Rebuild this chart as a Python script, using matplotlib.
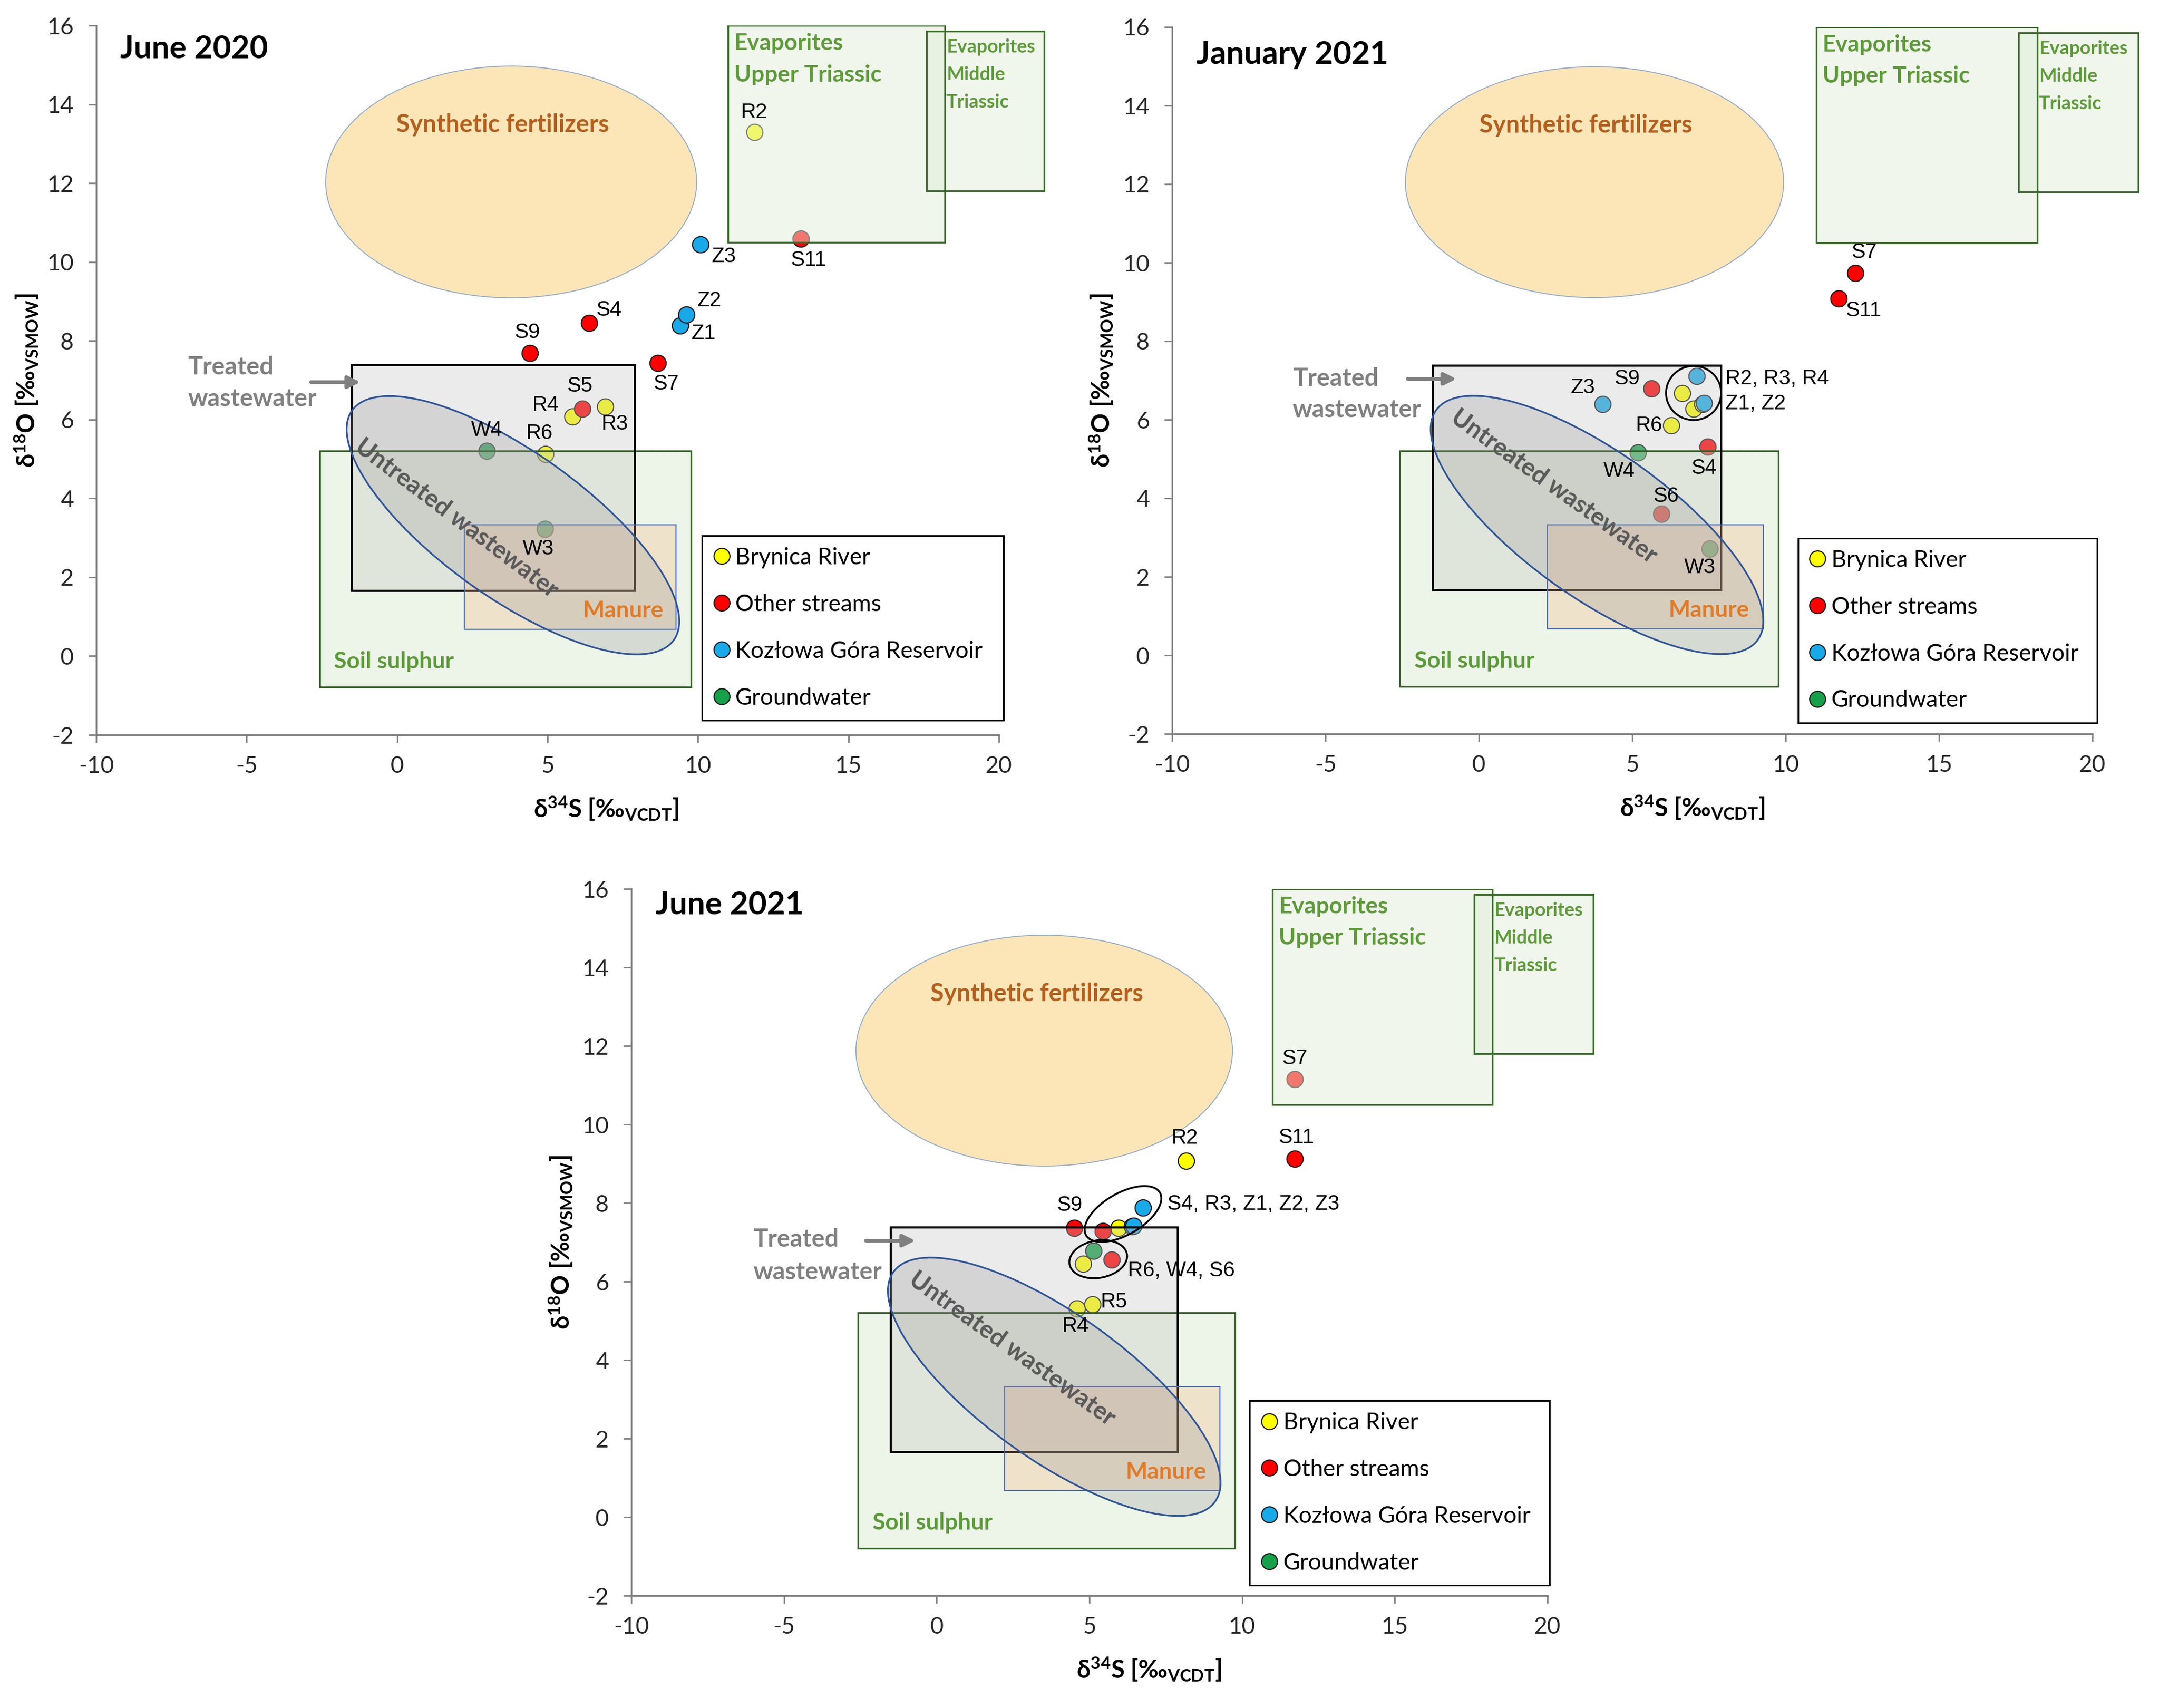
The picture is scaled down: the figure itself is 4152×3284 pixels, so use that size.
import matplotlib
matplotlib.use('Agg')
import matplotlib.pyplot as plt
from matplotlib.patches import Ellipse, Rectangle
from matplotlib.transforms import ScaledTranslation
from matplotlib.lines import Line2D

plt.rcParams['font.family'] = ['Lato', 'DejaVu Sans']
plt.rcParams['mathtext.fontset'] = 'custom'
plt.rcParams['mathtext.rm'] = 'Lato'
plt.rcParams['mathtext.bf'] = 'Lato:bold'
plt.rcParams['mathtext.it'] = 'Lato:italic'
plt.rcParams['axes.unicode_minus'] = False

DPI = 100
FIG_W, FIG_H = 4152, 3284

GROUPS = ['Brynica River', 'Other streams', 'Kozłowa Góra Reservoir', 'Groundwater']
GROUP_COLORS = ['#FFFF00', '#FF0000', '#1AA9E8', '#16A04A']

X_TICKS = [-10, -5, 0, 5, 10, 15, 20]
Y_TICKS = [-2, 0, 2, 4, 6, 8, 10, 12, 14, 16]

# ---------------- June 2020 ----------------
jun20_names = ['R2', 'R3', 'R4', 'R6', 'S4', 'S5', 'S7', 'S9', 'S11', 'Z1', 'Z2', 'Z3', 'W3', 'W4']
jun20_group = [0, 0, 0, 0, 1, 1, 1, 1, 1, 2, 2, 2, 3, 3]
jun20_d34S = [11.87, 6.92, 5.83, 4.93, 6.38, 6.15, 8.66, 4.41, 13.42, 9.40, 9.61, 10.08, 4.91, 2.97]
jun20_d18O = [13.29, 6.33, 6.07, 5.12, 8.45, 6.27, 7.44, 7.68, 10.59, 8.38, 8.66, 10.45, 3.23, 5.20]

# ---------------- January 2021 ----------------
jan21_names = ['R2', 'R3', 'R4', 'R6', 'S4', 'S6', 'S7', 'S9', 'S11', 'Z1', 'Z2', 'Z3', 'W3', 'W4']
jan21_group = [0, 0, 0, 0, 1, 1, 1, 1, 1, 2, 2, 2, 3, 3]
jan21_d34S = [6.63, 7.00, 7.28, 6.27, 7.45, 5.95, 12.27, 5.63, 11.73, 7.34, 7.11, 4.03, 7.53, 5.18]
jan21_d18O = [6.68, 6.28, 6.40, 5.86, 5.31, 3.60, 9.73, 6.80, 9.09, 6.43, 7.11, 6.40, 2.72, 5.16]

# ---------------- June 2021 ----------------
jun21_names = ['R2', 'R3', 'R4', 'R5', 'R6', 'S4', 'S6', 'S7', 'S9', 'S11', 'Z1', 'Z2', 'Z3', 'W4']
jun21_group = [0, 0, 0, 0, 0, 1, 1, 1, 1, 1, 2, 2, 2, 3]
jun21_d34S = [8.17, 5.96, 4.59, 5.10, 4.80, 5.44, 5.74, 11.72, 4.50, 11.72, 6.40, 6.44, 6.75, 5.14]
jun21_d18O = [9.07, 7.36, 5.31, 5.42, 6.45, 7.29, 6.56, 11.15, 7.36, 9.13, 7.40, 7.42, 7.88, 6.78]

# label offsets in pixels (dx, dy, ha)
jun20_lab = {'R2': (0, 38, 'center'), 'S11': (14, -41, 'center'), 'Z3': (45, -23, 'center'),
             'Z2': (44, 27, 'center'), 'Z1': (46, -15, 'center'), 'S4': (38, 25, 'center'),
             'S9': (-5, 40, 'center'), 'S7': (16, -40, 'center'), 'S5': (-5, 44, 'center'),
             'R4': (-52, 22, 'center'), 'R3': (18, -33, 'center'), 'W4': (0, 40, 'center'),
             'R6': (-12, 40, 'center'), 'W3': (-13, -38, 'center')}
jan21_lab = {'S7': (17, 40, 'center'), 'S11': (48, -23, 'center'), 'Z3': (-38, 32, 'center'),
             'S9': (-47, 19, 'center'), 'R6': (-17, 0, 'right'), 'W4': (-36, -36, 'center'),
             'S4': (-7, -41, 'center'), 'S6': (9, 34, 'center'), 'W3': (-19, -36, 'center')}
jun21_lab = {'S7': (0, 40, 'center'), 'R2': (-3, 44, 'center'), 'S11': (3, 41, 'center'),
             'S9': (-9, 44, 'center'), 'R5': (16, 5, 'left'), 'R4': (-3, -34, 'center')}

jan21_group_text = [('R2, R3, R4', 8.04, 7.05), ('Z1, Z2', 8.04, 6.41)]
jun21_group_text = [('S4, R3, Z1, Z2, Z3', 7.55, 7.97), ('R6, W4, S6', 6.26, 6.28)]

# enclosing rings: (cx, cy, width_px, height_px, angle)
jan21_rings = [(7.0, 6.68, 106, 104, 0)]
jun21_rings = [(6.10, 7.72, 164, 80, 30), (5.29, 6.57, 112, 72, 10)]

panels = [
    dict(title='June 2020', title_y=15.41, rect=(185, 49, 1921, 1413),
         names=jun20_names, group=jun20_group, x=jun20_d34S, y=jun20_d18O, lab=jun20_lab,
         gtext=[], rings=[], fert=(3.79, 12.03), fert_text=(3.51, 13.48),
         treated=(-6.95, 7.33, 6.53, -2.86, -1.22, 6.95), untreated_text=(1.97, 3.49, -37),
         legend=(0.671, 0.0227, 1.005, 0.281)),
    dict(title='January 2021', title_y=15.3, rect=(2254, 52, 4024, 1411),
         names=jan21_names, group=jan21_group, x=jan21_d34S, y=jan21_d18O, lab=jan21_lab,
         gtext=jan21_group_text, rings=jan21_rings, fert=(3.77, 12.05), fert_text=(3.48, 13.5),
         treated=(-6.07, 7.05, 6.25, -2.32, -0.73, 7.04), untreated_text=(2.45, 4.30, -35.5),
         legend=(0.680, 0.019, 1.005, 0.277)),
    dict(title='June 2021', title_y=15.59, rect=(1214, 1709, 2976, 3068),
         names=jun21_names, group=jun21_group, x=jun21_d34S, y=jun21_d18O, lab=jun21_lab,
         gtext=jun21_group_text, rings=jun21_rings, fert=(3.52, 11.88), fert_text=(3.27, 13.32),
         treated=(-6.01, 7.07, 6.24, -2.32, -0.70, 7.04), untreated_text=(2.47, 4.29, -35.5),
         legend=(0.675, 0.017, 1.002, 0.276)),
]

fig = plt.figure(figsize=(FIG_W / DPI, FIG_H / DPI), dpi=DPI)

LABEL_FONT = ['Liberation Sans', 'DejaVu Sans']
REGION_FS = 32


def px_ellipse(ax, cx, cy, w_px, h_px, angle, **kw):
    tr = fig.dpi_scale_trans + ScaledTranslation(cx, cy, ax.transData)
    e = Ellipse((0, 0), w_px / DPI, h_px / DPI, angle=angle, transform=tr, **kw)
    ax.add_patch(e)
    return e


for p in panels:
    l, t, r, b = p['rect']
    ax = fig.add_axes([l / FIG_W, 1 - b / FIG_H, (r - l) / FIG_W, (b - t) / FIG_H])
    ax.set_xlim(-10, 20)
    ax.set_ylim(-2, 16)
    ax.set_xticks(X_TICKS)
    ax.set_yticks(Y_TICKS)
    for s in ['top', 'right']:
        ax.spines[s].set_visible(False)
    for s in ['left', 'bottom']:
        ax.spines[s].set_color('#808080')
        ax.spines[s].set_linewidth(2.2)
    ax.tick_params(axis='both', direction='out', length=11, width=2.0, color='#808080',
                   labelsize=32, labelcolor='#262626')
    ax.tick_params(axis='x', pad=18)
    ax.tick_params(axis='y', pad=20)

    # points
    for gi, col in enumerate(GROUP_COLORS):
        xs = [xv for xv, g in zip(p['x'], p['group']) if g == gi]
        ys = [yv for yv, g in zip(p['y'], p['group']) if g == gi]
        ax.plot(xs, ys, ls='none', marker='o', ms=22.5, mfc=col, mec='#1a1a1a', mew=1.6, zorder=3)

    # synthetic fertilizers
    fx, fy = p['fert']
    ax.add_patch(Ellipse((fx, fy), 12.33, 5.88, facecolor='#FCE6B8', edgecolor='#8FAACC',
                         linewidth=1.3, zorder=2))
    ax.text(p['fert_text'][0], p['fert_text'][1], 'Synthetic fertilizers', color='#B4601E',
            fontsize=34, fontweight='bold', ha='center', va='center', zorder=6)

    # evaporites
    ax.add_patch(Rectangle((11.0, 10.5), 7.2, 5.5, facecolor='#E2EFDA', alpha=0.5,
                           edgecolor='none', zorder=4))
    ax.add_patch(Rectangle((11.0, 10.5), 7.2, 5.5, facecolor='none', edgecolor='#3B6A2B',
                           linewidth=2.4, zorder=4.1))
    ax.add_patch(Rectangle((17.6, 11.8), 3.9, 4.05, facecolor='#E2EFDA', alpha=0.5,
                           edgecolor='none', zorder=4, clip_on=False))
    ax.add_patch(Rectangle((17.6, 11.8), 3.9, 4.05, facecolor='none', edgecolor='#3B6A2B',
                           linewidth=2.4, zorder=4.1, clip_on=False))
    ax.text(11.2, 15.55, 'Evaporites', color='#5E9A3A', fontsize=REGION_FS, fontweight='bold',
            ha='left', va='center', zorder=6)
    ax.text(11.2, 14.75, 'Upper Triassic', color='#5E9A3A', fontsize=REGION_FS, fontweight='bold',
            ha='left', va='center', zorder=6)
    for txt, yy in zip(['Evaporites', 'Middle', 'Triassic'], [15.45, 14.75, 14.05]):
        ax.text(18.25, yy, txt, color='#5E9A3A', fontsize=26, fontweight='bold',
                ha='left', va='center', zorder=6, clip_on=False)

    # soil sulphur
    ax.add_patch(Rectangle((-2.57, -0.79), 12.34, 5.99, facecolor='#C5E0B4', alpha=0.3,
                           edgecolor='none', zorder=4))
    ax.add_patch(Rectangle((-2.57, -0.79), 12.34, 5.99, facecolor='none', edgecolor='#38612A',
                           linewidth=2.4, zorder=4.3))
    ax.text(-2.1, -0.14, 'Soil sulphur', color='#5B9A3A', fontsize=REGION_FS, fontweight='bold',
            ha='left', va='center', zorder=6)

    # treated wastewater
    ax.add_patch(Rectangle((-1.5, 1.65), 9.4, 5.73, facecolor='#C8C8C8', alpha=0.35,
                           edgecolor='none', zorder=4.2))
    ax.add_patch(Rectangle((-1.5, 1.65), 9.4, 5.73, facecolor='none', edgecolor='black',
                           linewidth=3.0, zorder=4.4))
    tx, ty1, ty2, ax0, ax1, ay = p['treated']
    ax.text(tx, ty1, 'Treated', color='#808080', fontsize=34, fontweight='bold',
            ha='left', va='center', zorder=6)
    ax.text(tx, ty2, 'wastewater', color='#808080', fontsize=34, fontweight='bold',
            ha='left', va='center', zorder=6)
    ax.annotate('', xy=(ax1, ay), xytext=(ax0, ay),
                arrowprops=dict(arrowstyle='-|>', color='#808080', lw=5, mutation_scale=35,
                                shrinkA=0, shrinkB=0), zorder=6)

    # manure
    ax.add_patch(Rectangle((2.23, 0.68), 7.04, 2.65, facecolor='#F4B183', alpha=0.28,
                           edgecolor='none', zorder=4.5))
    ax.add_patch(Rectangle((2.23, 0.68), 7.04, 2.65, facecolor='none', edgecolor='#4A72B8',
                           linewidth=1.6, zorder=4.6))
    ax.text(7.5, 1.15, 'Manure', color='#E07B28', fontsize=REGION_FS, fontweight='bold',
            ha='center', va='center', zorder=6)

    # untreated wastewater
    px_ellipse(ax, 3.85, 3.32, 760, 280, -35.5, facecolor='#9A9A9A', alpha=0.28,
               edgecolor='none', zorder=4.7)
    px_ellipse(ax, 3.85, 3.32, 760, 280, -35.5, facecolor='none', edgecolor='#2F5597',
               linewidth=2.4, zorder=4.8)
    ux, uy, ua = p['untreated_text']
    ax.text(ux, uy, 'Untreated wastewater', color='#595959', fontsize=34, fontweight='bold',
            ha='center', va='center', rotation=ua, rotation_mode='anchor', zorder=6)

    # rings around groups of points
    for cx, cy, wpx, hpx, ang in p['rings']:
        px_ellipse(ax, cx, cy, wpx, hpx, ang, facecolor='none', edgecolor='black',
                   linewidth=2.6, zorder=8)

    # point labels
    for nm, xv, yv in zip(p['names'], p['x'], p['y']):
        if nm in p['lab']:
            dx, dy, ha = p['lab'][nm]
            ax.annotate(nm, (xv, yv), xytext=(dx, dy), textcoords='offset pixels',
                        ha=ha, va='center', fontsize=29, family=LABEL_FONT, color='black',
                        zorder=10)
    for txt, xv, yv in p['gtext']:
        ax.text(xv, yv, txt, ha='left', va='center', fontsize=29, family=LABEL_FONT,
                color='black', zorder=10)

    # title
    ax.text(-9.2, p['title_y'], p['title'], fontsize=44, fontweight='bold', color='black',
            ha='left', va='center', zorder=10)

    # axis labels
    ax.set_xlabel(r'δ$^{\mathbf{34}}$S [‰$_{\mathbf{VCDT}}$]', fontsize=34, fontweight='bold')
    ax.set_ylabel(r'δ$^{\mathbf{18}}$O [‰$_{\mathbf{VSMOW}}$]', fontsize=34, fontweight='bold')
    ax.xaxis.set_label_coords(0.565, -0.085)
    ax.yaxis.set_label_coords(-0.062, 0.5)

    # legend
    x0, y0, x1, y1 = p['legend']
    handles = [Line2D([], [], ls='none', marker='o', ms=22, mfc=c, mec='#1a1a1a', mew=1.6)
               for c in GROUP_COLORS]
    leg = ax.legend(handles, GROUPS, loc='upper left', bbox_to_anchor=(x0, y0, x1 - x0, y1 - y0),
                    mode='expand', borderaxespad=0, fontsize=32, frameon=True, fancybox=False,
                    edgecolor='black', framealpha=1, borderpad=0.5, labelspacing=1.1,
                    handlelength=0.7, handletextpad=0.25)
    leg.get_frame().set_linewidth(2.2)
    leg.set_zorder(20)

fig.savefig('out.png', dpi=DPI, facecolor='white')
